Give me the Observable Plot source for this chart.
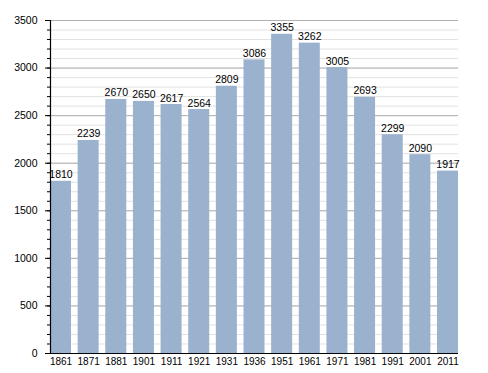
<!DOCTYPE html>
<html>
<head>
<meta charset="utf-8">
<script src="https://cdn.jsdelivr.net/npm/d3@7"></script>
<script src="https://cdn.jsdelivr.net/npm/@observablehq/plot@0.6"></script>
<style>
html, body { margin: 0; padding: 0; background: #fff; }
#chart svg { display: block; }
</style>
</head>
<body>
<div id="chart"></div>
<script>
const years = ["1861","1871","1881","1901","1911","1921","1931","1936","1951","1961","1971","1981","1991","2001","2011"];
const population = [1810,2239,2670,2650,2617,2564,2809,3086,3355,3262,3005,2693,2299,2090,1917];
const majorTicks = [0,500,1000,1500,2000,2500,3000,3500];
const minorTicks = d3.range(0, 3501, 100);

const data = years.map((y, i) => ({year: y, pop: population[i]}));

const plot = Plot.plot({
  width: 488,
  height: 373,
  marginLeft: 50,
  marginRight: 30,
  marginTop: 20,
  marginBottom: 20,
  style: {fontFamily: "'Liberation Sans', Arial, sans-serif", fontSize: "10px", color: "#000", background: "#fff"},
  x: {type: "band", domain: years, paddingInner: 0.24, paddingOuter: 0, round: false, label: null},
  y: {domain: [0, 3500], label: null},
  marks: [
    Plot.ruleY(minorTicks, {stroke: "#e2e2e2", strokeWidth: 1}),
    Plot.ruleY(majorTicks, {stroke: "#b0b0b0", strokeWidth: 1}),
    Plot.barY(data, {x: "year", y: "pop", fill: "#9ab2cd"}),
    Plot.text(data, {x: "year", y: "pop", text: d => String(d.pop), dy: -3, lineAnchor: "bottom", fill: "#000", fontSize: 10.5}),
    Plot.axisY({ticks: minorTicks, tickSize: 3, text: null, stroke: "#000"}),
    Plot.axisY({ticks: majorTicks, tickSize: 5, tickPadding: 8, tickFormat: d => String(d), fontSize: 10.5, stroke: "#000"}),
    Plot.axisX({tickSize: 0, tickPadding: 4, fontSize: 10}),
    Plot.ruleY([0], {stroke: "#000", strokeWidth: 1.2}),
    Plot.frame({anchor: "left", stroke: "#000", strokeWidth: 1.2})
  ]
});
document.getElementById("chart").appendChild(plot);
</script>
</body>
</html>
